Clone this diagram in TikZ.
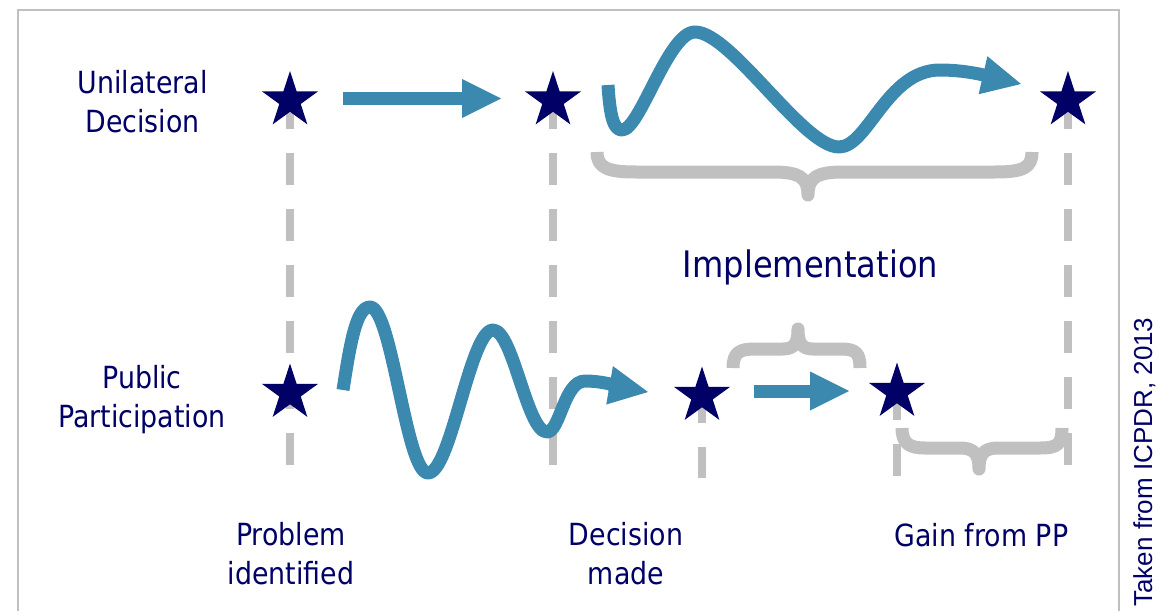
\documentclass[tikz,border=0pt]{standalone}
\usepackage{fontspec}
\setmainfont{DejaVu Sans}[FakeStretch=0.88]
\newfontfamily\arialfont{Liberation Sans}
\usetikzlibrary{arrows.meta,shapes.geometric}
\definecolor{navy}{RGB}{0,0,102}
\definecolor{flowblue}{RGB}{60,137,176}
\definecolor{guidegray}{RGB}{192,192,192}
\pgfdeclarelayer{bg}
\pgfsetlayers{bg,main}
\begin{document}
\begin{tikzpicture}[x=1pt,y=-1pt,
  starnode/.style={star,star points=5,star point ratio=2.618,minimum size=59pt,inner sep=0pt,fill=navy,draw=none},
  guide/.style={draw=guidegray,line width=8pt,dash pattern=on 32pt off 24pt},
  flow/.style={draw=flowblue,line width=13pt,-{Triangle[length=39pt,width=39pt,line width=0pt]}},
  wave/.style={flow,line join=round},
  bracepath/.style={draw=guidegray,line width=13pt,line join=round},
  frame/.style={draw=guidegray,line width=2pt},
  lbl/.style={text=navy,font=\fontsize{30.5}{38.5}\selectfont,align=center,inner sep=0pt,anchor=base}
]
\useasboundingbox (0,0) rectangle (1158,610);

% frame
\coordinate (f1) at (18,612);
\coordinate (f2) at (18,10);
\coordinate (f3) at (1119,10);
\coordinate (f4) at (1119,612);
\draw[frame] (f1) -- (f2) -- (f3) -- (f4);

% stars
\node[starnode] (s1) at (290,100.5) {};
\node[starnode] (s2) at (553,100.5) {};
\node[starnode] (s3) at (1068,100.5) {};
\node[starnode] (l1) at (290,393) {};
\node[starnode] (l2) at (702,396) {};
\node[starnode] (l3) at (897,392) {};

% guide lines
\coordinate (g1) at (290,465);
\coordinate (g2) at (553,465);
\coordinate (g3) at (1068,465);
\coordinate (g4) at (702,478);
\coordinate (g5) at (897,476);
\begin{pgfonlayer}{bg}
\draw[guide,dash phase=3.5pt] (s1.center) -- (g1);
\draw[guide,dash phase=3.5pt] (s2.center) -- (g2);
\draw[guide,dash phase=3.5pt] (s3.center) -- (g3);
\draw[guide,dash phase=5pt] (l2.center) -- (g4);
\draw[guide,dash phase=4pt] (l3.center) -- (g5);
\end{pgfonlayer}

% braces
\coordinate (b1l) at (597,152);
\coordinate (b1r) at (1032,152);
\draw[bracepath] (b1l) .. controls (597,168) and (608,172) .. (636,172) -- (773,172)
  .. controls (800,172) and (808,178) .. (808,195)
  .. controls (808,178) and (816,172) .. (843,172) -- (995,172)
  .. controls (1023,172) and (1032,168) .. (b1r);
\coordinate (b2l) at (733,368);
\coordinate (b2r) at (860,368);
\draw[bracepath] (b2l) .. controls (733,352) and (740,349) .. (755,349) -- (783,349)
  .. controls (795,349) and (798,342) .. (798,329)
  .. controls (798,342) and (801,349) .. (813,349) -- (840,349)
  .. controls (855,349) and (860,352) .. (b2r);
\coordinate (b3l) at (902,428);
\coordinate (b3r) at (1062,428);
\draw[bracepath] (b3l) .. controls (902,444) and (910,448) .. (925,448) -- (960,448)
  .. controls (975,448) and (979,455) .. (979,469)
  .. controls (979,455) and (983,448) .. (998,448) -- (1040,448)
  .. controls (1058,448) and (1062,444) .. (b3r);

% straight arrows
\coordinate (a1s) at (343,98.5);
\coordinate (a1e) at (501,98.5);
\draw[flow] (a1s) -- (a1e);
\coordinate (a2s) at (754,391);
\coordinate (a2e) at (849,391);
\draw[flow] (a2s) -- (a2e);

% wavy arrows
\coordinate (w2s) at (608,85);
\coordinate (w2e) at (1021,84);
\draw[wave] (w2s) .. controls (610,118) and (614,130) .. (622,130)
  .. controls (640,130) and (668,32) .. (695,32)
  .. controls (731,32) and (803,147) .. (839,147)
  .. controls (868,147) and (887,70) .. (940,70)
  .. controls (970,70) and (995,78) .. (w2e);
\coordinate (w1s) at (343,390);
\coordinate (w1e) at (648,392);
\draw[wave] (w1s) .. controls (350,345) and (356,307) .. (370,307)
  .. controls (392,307) and (406,473) .. (428,473)
  .. controls (451,473) and (470,330) .. (493,330)
  .. controls (513,330) and (527,432) .. (547,432)
  .. controls (560,432) and (564,381) .. (585,381)
  .. controls (605,381) and (625,388) .. (w1e);

% labels
\node[lbl] (ud) at (142.5,132) {Unilateral\\Decision};
\node[lbl] (pp) at (142,427) {Public\\Participation};
\node[lbl] (pi) at (291,584) {Problem\\identified};
\node[lbl] (dm) at (626,584) {Decision\\made};
\node[lbl] (gp) at (981.5,546) {Gain from PP};
\node[lbl,font=\fontsize{36.5}{44}\selectfont] (im) at (810.5,277) {Implementation};
\node[text=navy,font=\arialfont\fontsize{26}{30}\selectfont,rotate=90,anchor=base,inner sep=0pt] (src) at (1152,462) {Taken from ICPDR, 2013};
\end{tikzpicture}
\end{document}
